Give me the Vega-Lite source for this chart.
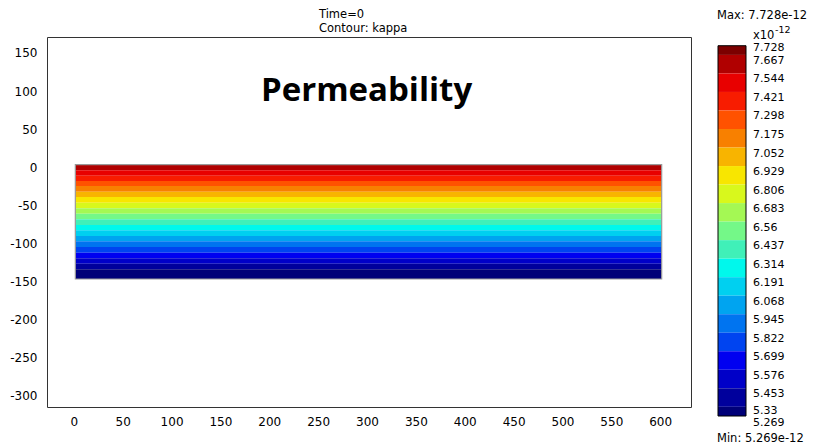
{
  "$schema": "https://vega.github.io/schema/vega-lite/v6.json",
  "background": "white",
  "padding": {"left": 9, "top": 8, "right": 0, "bottom": 0},
  "spacing": 27,
  "bounds": "flush",
  "datasets": {
    "mainBands": [
      {"band": 2, "top": 0, "bottom": -7.4},
      {"band": 3, "top": -7.4, "bottom": -14.4},
      {"band": 4, "top": -14.4, "bottom": -21.4},
      {"band": 5, "top": -21.4, "bottom": -28.0},
      {"band": 6, "top": -28.0, "bottom": -35.4},
      {"band": 7, "top": -35.4, "bottom": -42.4},
      {"band": 8, "top": -42.4, "bottom": -49.8},
      {"band": 9, "top": -49.8, "bottom": -57.3},
      {"band": 10, "top": -57.3, "bottom": -64.3},
      {"band": 11, "top": -64.3, "bottom": -71.7},
      {"band": 12, "top": -71.7, "bottom": -79.1},
      {"band": 13, "top": -79.1, "bottom": -86.1},
      {"band": 14, "top": -86.1, "bottom": -93.6},
      {"band": 15, "top": -93.6, "bottom": -100.6},
      {"band": 16, "top": -100.6, "bottom": -108.0},
      {"band": 17, "top": -108.0, "bottom": -115.4},
      {"band": 18, "top": -115.4, "bottom": -122.9},
      {"band": 19, "top": -122.9, "bottom": -129.9},
      {"band": 20, "top": -129.9, "bottom": -137.3},
      {"band": 21, "top": -137.3, "bottom": -150}
    ],
    "barBands": [
      {"band": 1, "lo": 7.667, "hi": 7.728},
      {"band": 2, "lo": 7.544, "hi": 7.667},
      {"band": 3, "lo": 7.421, "hi": 7.544},
      {"band": 4, "lo": 7.298, "hi": 7.421},
      {"band": 5, "lo": 7.175, "hi": 7.298},
      {"band": 6, "lo": 7.052, "hi": 7.175},
      {"band": 7, "lo": 6.929, "hi": 7.052},
      {"band": 8, "lo": 6.806, "hi": 6.929},
      {"band": 9, "lo": 6.683, "hi": 6.806},
      {"band": 10, "lo": 6.56, "hi": 6.683},
      {"band": 11, "lo": 6.437, "hi": 6.56},
      {"band": 12, "lo": 6.314, "hi": 6.437},
      {"band": 13, "lo": 6.191, "hi": 6.314},
      {"band": 14, "lo": 6.068, "hi": 6.191},
      {"band": 15, "lo": 5.945, "hi": 6.068},
      {"band": 16, "lo": 5.822, "hi": 5.945},
      {"band": 17, "lo": 5.699, "hi": 5.822},
      {"band": 18, "lo": 5.576, "hi": 5.699},
      {"band": 19, "lo": 5.453, "hi": 5.576},
      {"band": 20, "lo": 5.33, "hi": 5.453},
      {"band": 21, "lo": 5.269, "hi": 5.33}
    ],
    "barLabels": [
      {"v": 5.269}, {"v": 5.33}, {"v": 5.453}, {"v": 5.576}, {"v": 5.699}, {"v": 5.822},
      {"v": 5.945}, {"v": 6.068}, {"v": 6.191}, {"v": 6.314}, {"v": 6.437}, {"v": 6.56},
      {"v": 6.683}, {"v": 6.806}, {"v": 6.929}, {"v": 7.052}, {"v": 7.175}, {"v": 7.298},
      {"v": 7.421}, {"v": 7.544}, {"v": 7.667}, {"v": 7.728}
    ]
  },
  "hconcat": [
    {
      "width": 644,
      "height": 370,
      "title": {
        "text": ["Time=0", "Contour: kappa"],
        "anchor": "middle",
        "align": "left",
        "dx": -50,
        "font": "DejaVu Sans",
        "fontSize": 11.5,
        "fontWeight": "normal",
        "lineHeight": 14,
        "offset": 3,
        "color": "#000"
      },
      "layer": [
        {
          "data": {"name": "mainBands"},
          "mark": {"type": "rect"},
          "encoding": {
            "x": {
              "datum": 0,
              "type": "quantitative",
              "scale": {"domain": [-29, 630], "nice": false, "zero": false},
              "axis": {
                "values": [0, 50, 100, 150, 200, 250, 300, 350, 400, 450, 500, 550, 600],
                "labelExpr": "'' + datum.value",
                "ticks": false, "domain": false, "grid": false,
                "labelPadding": 9, "labelOffset": -1.5,
                "labelFont": "DejaVu Sans", "labelFontSize": 12, "labelColor": "#000",
                "labelOverlap": false, "labelFlush": false, "title": null
              }
            },
            "x2": {"datum": 600},
            "y": {
              "field": "top",
              "type": "quantitative",
              "scale": {"domain": [-318, 167.6], "nice": false, "zero": false},
              "axis": {
                "values": [-300, -250, -200, -150, -100, -50, 0, 50, 100, 150],
                "labelExpr": "'' + datum.value",
                "ticks": false, "domain": false, "grid": false,
                "labelPadding": 10, "labelOffset": 2.5,
                "labelFont": "DejaVu Sans", "labelFontSize": 12, "labelColor": "#000",
                "labelOverlap": false, "labelFlush": false, "title": null
              }
            },
            "y2": {"field": "bottom"},
            "color": {
              "field": "band",
              "type": "nominal",
              "scale": {
                "domain": [1, 2, 3, 4, 5, 6, 7, 8, 9, 10, 11, 12, 13, 14, 15, 16, 17, 18, 19, 20, 21],
                "range": ["#7c0000", "#b00000", "#e80000", "#f81c00", "#ff5200", "#f88000", "#f8b400", "#f8e600", "#d8f81c", "#a4f854", "#74f888", "#40f0b8", "#00f8ec", "#00d0f0", "#00a4f0", "#0074f0", "#0044f0", "#0000f0", "#0000c8", "#00009c", "#000078"]
              },
              "legend": null
            }
          }
        },
        {
          "data": {"values": [{"x0": 0, "x1": 600, "y0": 0, "y1": -150}]},
          "mark": {"type": "rect", "filled": false, "stroke": "#999", "strokeWidth": 1.2},
          "encoding": {
            "x": {"field": "x0", "type": "quantitative"},
            "x2": {"field": "x1"},
            "y": {"field": "y0", "type": "quantitative"},
            "y2": {"field": "y1"}
          }
        },
        {
          "data": {"values": [{"label": "Permeability", "x": 298, "y": 84}]},
          "mark": {"type": "text", "font": "Open Sans", "fontWeight": "bold", "fontSize": 33, "align": "center", "baseline": "alphabetic", "color": "#000"},
          "encoding": {
            "x": {"field": "x", "type": "quantitative"},
            "y": {"field": "y", "type": "quantitative"},
            "text": {"field": "label"}
          }
        }
      ]
    },
    {
      "width": 28,
      "height": 379,
      "view": {"stroke": null},
      "layer": [
        {
          "data": {"name": "barBands"},
          "mark": {"type": "rect"},
          "encoding": {
            "x": {"datum": 0, "type": "quantitative", "scale": {"domain": [0, 1], "nice": false, "zero": false}, "axis": null},
            "x2": {"datum": 1},
            "y": {
              "field": "lo",
              "type": "quantitative",
              "scale": {"domain": [5.269, 7.786], "nice": false, "zero": false},
              "axis": null
            },
            "y2": {"field": "hi"},
            "color": {
              "field": "band",
              "type": "nominal",
              "scale": {
                "domain": [1, 2, 3, 4, 5, 6, 7, 8, 9, 10, 11, 12, 13, 14, 15, 16, 17, 18, 19, 20, 21],
                "range": ["#7c0000", "#b00000", "#e80000", "#f81c00", "#ff5200", "#f88000", "#f8b400", "#f8e600", "#d8f81c", "#a4f854", "#74f888", "#40f0b8", "#00f8ec", "#00d0f0", "#00a4f0", "#0074f0", "#0044f0", "#0000f0", "#0000c8", "#00009c", "#000078"]
              },
              "legend": null
            }
          }
        },
        {
          "data": {"values": [{"lo": 5.269, "hi": 7.728}]},
          "mark": {"type": "rect", "filled": false, "stroke": "#000", "strokeWidth": 1},
          "encoding": {
            "x": {"datum": 0, "type": "quantitative", "axis": null},
            "x2": {"datum": 1},
            "y": {"field": "lo", "type": "quantitative", "axis": null},
            "y2": {"field": "hi"}
          }
        },
        {
          "data": {"name": "barLabels"},
          "transform": [{"filter": "datum.v > 5.4 && datum.v < 7.7"}],
          "mark": {"type": "text", "align": "left", "baseline": "top", "dx": 7, "font": "DejaVu Sans", "fontSize": 11, "color": "#000"},
          "encoding": {
            "x": {"datum": 1, "type": "quantitative", "axis": null},
            "y": {"field": "v", "type": "quantitative", "axis": null},
            "text": {"field": "v", "type": "quantitative", "format": ".4~f"}
          }
        },
        {
          "data": {"name": "barLabels"},
          "transform": [{"filter": "datum.v > 5.3 && datum.v < 5.4"}],
          "mark": {"type": "text", "align": "left", "baseline": "top", "dx": 7, "dy": -2, "font": "DejaVu Sans", "fontSize": 11, "color": "#000"},
          "encoding": {
            "x": {"datum": 1, "type": "quantitative", "axis": null},
            "y": {"field": "v", "type": "quantitative", "axis": null},
            "text": {"field": "v", "type": "quantitative", "format": ".4~f"}
          }
        },
        {
          "data": {"name": "barLabels"},
          "transform": [{"filter": "datum.v > 7.7"}],
          "mark": {"type": "text", "align": "left", "baseline": "top", "dx": 7, "dy": -4, "font": "DejaVu Sans", "fontSize": 11, "color": "#000"},
          "encoding": {
            "x": {"datum": 1, "type": "quantitative", "axis": null},
            "y": {"field": "v", "type": "quantitative", "axis": null},
            "text": {"field": "v", "type": "quantitative", "format": ".4~f"}
          }
        },
        {
          "data": {"name": "barLabels"},
          "transform": [{"filter": "datum.v < 5.3"}],
          "mark": {"type": "text", "align": "left", "baseline": "middle", "dx": 7, "dy": 6.5, "font": "DejaVu Sans", "fontSize": 11, "color": "#000"},
          "encoding": {
            "x": {"datum": 1, "type": "quantitative", "axis": null},
            "y": {"field": "v", "type": "quantitative", "axis": null},
            "text": {"field": "v", "type": "quantitative", "format": ".4~f"}
          }
        },
        {
          "data": {"values": [{"label": "x10", "y": 7.728}]},
          "mark": {"type": "text", "align": "left", "baseline": "alphabetic", "dx": 7, "dy": -6.5, "font": "DejaVu Sans", "fontSize": 11.5, "color": "#000"},
          "encoding": {
            "x": {"datum": 1, "type": "quantitative", "axis": null},
            "y": {"field": "y", "type": "quantitative", "axis": null},
            "text": {"field": "label"}
          }
        },
        {
          "data": {"values": [{"label": "-12", "y": 7.728}]},
          "mark": {"type": "text", "align": "left", "baseline": "alphabetic", "dx": 29, "dy": -12.5, "font": "DejaVu Sans", "fontSize": 9.5, "color": "#000"},
          "encoding": {
            "x": {"datum": 1, "type": "quantitative", "axis": null},
            "y": {"field": "y", "type": "quantitative", "axis": null},
            "text": {"field": "label"}
          }
        },
        {
          "data": {"values": [{"label": "Max: 7.728e-12", "y": 7.728}]},
          "mark": {"type": "text", "align": "left", "baseline": "middle", "dx": -1, "dy": -30, "font": "DejaVu Sans", "fontSize": 11.5, "color": "#000"},
          "encoding": {
            "x": {"datum": 0, "type": "quantitative", "axis": null},
            "y": {"field": "y", "type": "quantitative", "axis": null},
            "text": {"field": "label"}
          }
        },
        {
          "data": {"values": [{"label": "Min: 5.269e-12", "y": 5.269}]},
          "mark": {"type": "text", "align": "left", "baseline": "middle", "dx": -1, "dy": 22.5, "font": "DejaVu Sans", "fontSize": 11.5, "color": "#000"},
          "encoding": {
            "x": {"datum": 0, "type": "quantitative", "axis": null},
            "y": {"field": "y", "type": "quantitative", "axis": null},
            "text": {"field": "label"}
          }
        }
      ]
    }
  ],
  "config": {
    "view": {"stroke": "#333", "strokeWidth": 1},
    "axis": {"grid": false}
  }
}
